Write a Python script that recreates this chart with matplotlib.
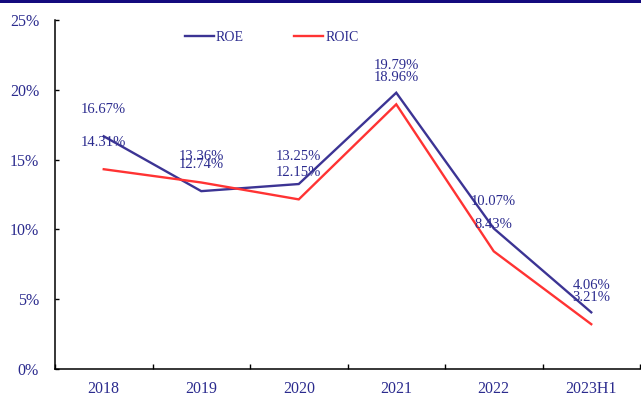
import matplotlib
matplotlib.use("Agg")
import matplotlib.pyplot as plt
from matplotlib.patches import Rectangle

categories = ["2018", "2019", "2020", "2021", "2022", "2023H1"]
roe = [16.67, 12.74, 13.25, 19.79, 10.07, 4.06]
roic = [14.31, 13.36, 12.15, 18.96, 8.43, 3.21]
yticks = [0, 5, 10, 15, 20, 25]

TXT = "#2B2B8E"
C_ROE = "#3C3494"
C_ROIC = "#FF3333"
FONT = ["Liberation Serif", "DejaVu Serif"]
plt.rcParams["font.family"] = FONT

W, H = 641, 401
fig = plt.figure(figsize=(W / 100, H / 100), dpi=100)
ax = fig.add_axes([55 / W, (H - 369) / H, (640 - 55) / W, (369 - 20) / H])

x = list(range(len(categories)))
ax.plot(x, roe, color=C_ROE, lw=1.7, label="ROE", solid_joinstyle="miter")
ax.plot(x, roic, color=C_ROIC, lw=1.7, label="ROIC", solid_joinstyle="miter")

for xi, v in zip(x, roe):
    ax.annotate(f"{v:.2f}%", (xi, v), xytext=(0, 19.5), textcoords="offset points",
                ha="center", va="center", fontsize=10.5, color=TXT)
for xi, v in zip(x, roic):
    ax.annotate(f"{v:.2f}%", (xi, v), xytext=(0, 19.0), textcoords="offset points",
                ha="center", va="center", fontsize=10.5, color=TXT)

ax.set_xlim(-0.5, len(categories) - 0.5)
ax.set_ylim(0, 25)
ax.set_yticks(yticks)
ax.set_yticklabels([f"{t}%" for t in yticks])
ax.set_xticks(x)
ax.set_xticklabels(categories)
ax.set_xticks([i + 0.5 for i in range(-1, len(categories))], minor=True)

ax.tick_params(axis="x", which="major", length=0, pad=8.5, labelsize=11.5, labelcolor=TXT)
ax.tick_params(axis="x", which="minor", direction="in", length=3.6, width=1, color="black")
ax.tick_params(axis="y", which="major", direction="in", length=3, width=1, pad=11.5,
               labelsize=11.5, labelcolor=TXT)

for s in ["top", "right"]:
    ax.spines[s].set_visible(False)
for s in ["left", "bottom"]:
    ax.spines[s].set_linewidth(1.1)
    ax.spines[s].set_color("black")

leg = fig.legend(loc="center", bbox_to_anchor=(271.5 / W, 1 - 37.7 / H), ncol=2,
                 frameon=False, fontsize=10, handlelength=2.1, handletextpad=0.15,
                 columnspacing=3.6, labelcolor=TXT, borderpad=0)

fig.add_artist(Rectangle((0, 1 - 3 / H), 1, 3 / H, transform=fig.transFigure,
                         color="#140A7E", lw=0))

fig.savefig("out.png", dpi=100)
